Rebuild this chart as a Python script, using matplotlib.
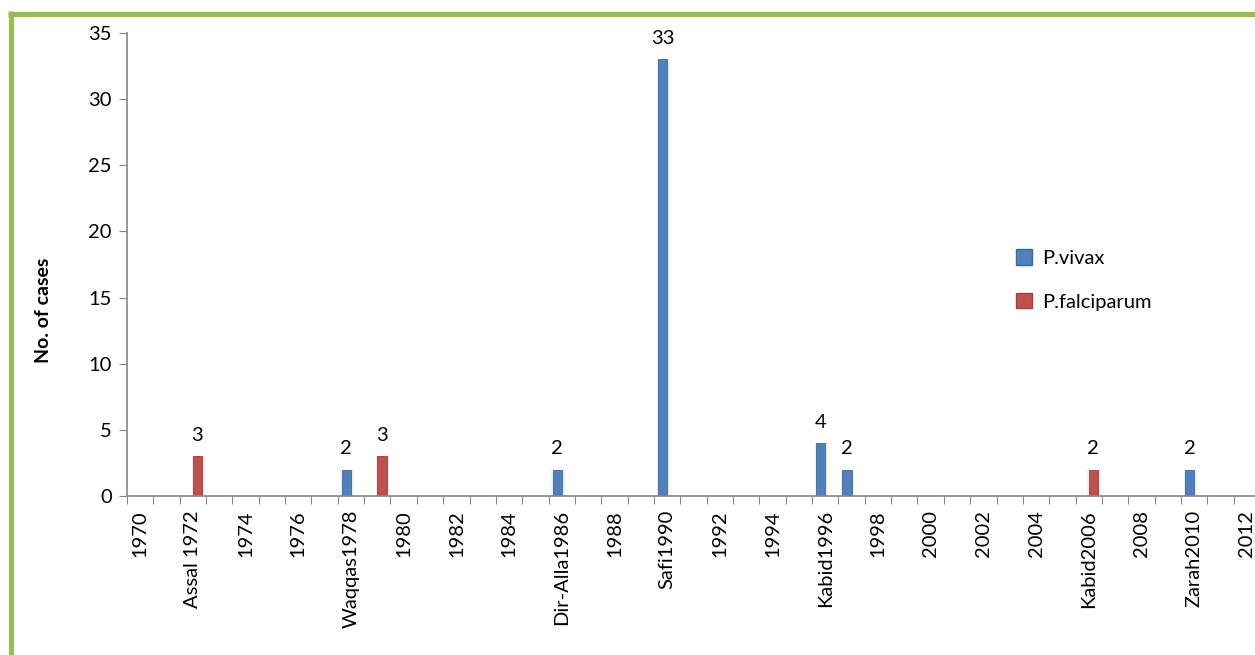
import numpy as np
import matplotlib
matplotlib.use("Agg")
import matplotlib.pyplot as plt
from matplotlib.lines import Line2D
from matplotlib.patches import Patch

plt.rcParams['font.family'] = ['Lato', 'DejaVu Sans']

# one category per year, 1970..2012
years = list(range(1970, 2013))
vivax = {1978: 2, 1986: 2, 1990: 33, 1996: 4, 1997: 2, 2010: 2}
falciparum = {1972: 3, 1979: 3, 2006: 2}
label_names = {1972: 'Assal 1972', 1978: 'Waqqas1978', 1986: 'Dir-Alla1986',
               1990: 'Safi1990', 1996: 'Kabid1996', 2006: 'Kabid2006',
               2010: 'Zarah2010'}

W, H = 1255, 655
fig = plt.figure(figsize=(W / 100, H / 100), dpi=100)
ax = fig.add_axes([127 / W, (H - 496) / H, 1133 / W, 463 / H])

blue = '#4F81BD'
red = '#C0504D'
bw = 0.35
fs = 14.5

viv_x = np.array([years.index(y) for y in vivax])
viv_y = np.array(list(vivax.values()))
fal_x = np.array([years.index(y) for y in falciparum])
fal_y = np.array(list(falciparum.values()))

# soft shadow behind bars
for xs, ys in [(viv_x - bw / 2, viv_y), (fal_x + bw / 2, fal_y)]:
    ax.bar(xs + 0.03, ys, width=bw + 0.16, color='#000000', alpha=0.06,
           align='center', zorder=1)

b1 = ax.bar(viv_x - bw / 2, viv_y, width=bw, color=blue, edgecolor='#3A6AA3',
            linewidth=0.6, zorder=2)
b2 = ax.bar(fal_x + bw / 2, fal_y, width=bw, color=red, edgecolor='#A33E3B',
            linewidth=0.6, zorder=2)

for bars, vals in [(b1, viv_y), (b2, fal_y)]:
    for r, v in zip(bars, vals):
        ax.annotate(str(v), (r.get_x() + r.get_width() / 2, v),
                    xytext=(0, 9), textcoords='offset points',
                    ha='center', va='bottom', fontsize=fs)

ax.set_xlim(-0.5, len(years) - 0.5)
ax.set_ylim(0, 35)
ax.set_yticks(range(0, 36, 5))

# tick marks on category boundaries, labels on every other category
ax.set_xticks(np.arange(-0.5, len(years), 1.0))
ax.set_xticklabels([])
ax.set_xticks(np.arange(0, len(years), 2), minor=True)
ax.set_xticklabels([label_names.get(y, str(y)) for y in years[::2]],
                   minor=True, rotation=90, fontsize=fs, va='top')
ax.tick_params(axis='x', which='major', length=6, color='#868686', direction='out')
ax.tick_params(axis='x', which='minor', length=0, pad=10)
ax.tick_params(axis='y', length=6, color='#868686', labelsize=fs, pad=5)

for s in ['top', 'right']:
    ax.spines[s].set_visible(False)
for s in ['left', 'bottom']:
    ax.spines[s].set_color('#868686')
    ax.spines[s].set_linewidth(1.2)

ax.set_ylabel('No. of cases', fontsize=14, fontweight='bold')
ax.yaxis.set_label_coords(-0.066, (496 - 310) / 463)

handles = [Patch(facecolor=blue, edgecolor='#3A6AA3'),
           Patch(facecolor=red, edgecolor='#A33E3B')]
fig.legend(handles, ['P.vivax', 'P.falciparum'], loc='upper left',
           bbox_to_anchor=(998 / W, 1 - 231 / H), frameon=False, fontsize=fs,
           handlelength=0.8, handleheight=0.8, handletextpad=0.5,
           labelspacing=1.3, borderpad=0.4)

# green outer frame (right and bottom edges cut off)
green = '#9BBB59'
fig.add_artist(Line2D([10.5 / W, 10.5 / W], [0, 1 - 11 / H], color=green,
                      lw=3.8, transform=fig.transFigure, solid_capstyle='butt'))
fig.add_artist(Line2D([8 / W, 1], [1 - 13.5 / H, 1 - 13.5 / H], color=green,
                      lw=3.8, transform=fig.transFigure, solid_capstyle='butt'))

fig.savefig('out.png', dpi=100)
